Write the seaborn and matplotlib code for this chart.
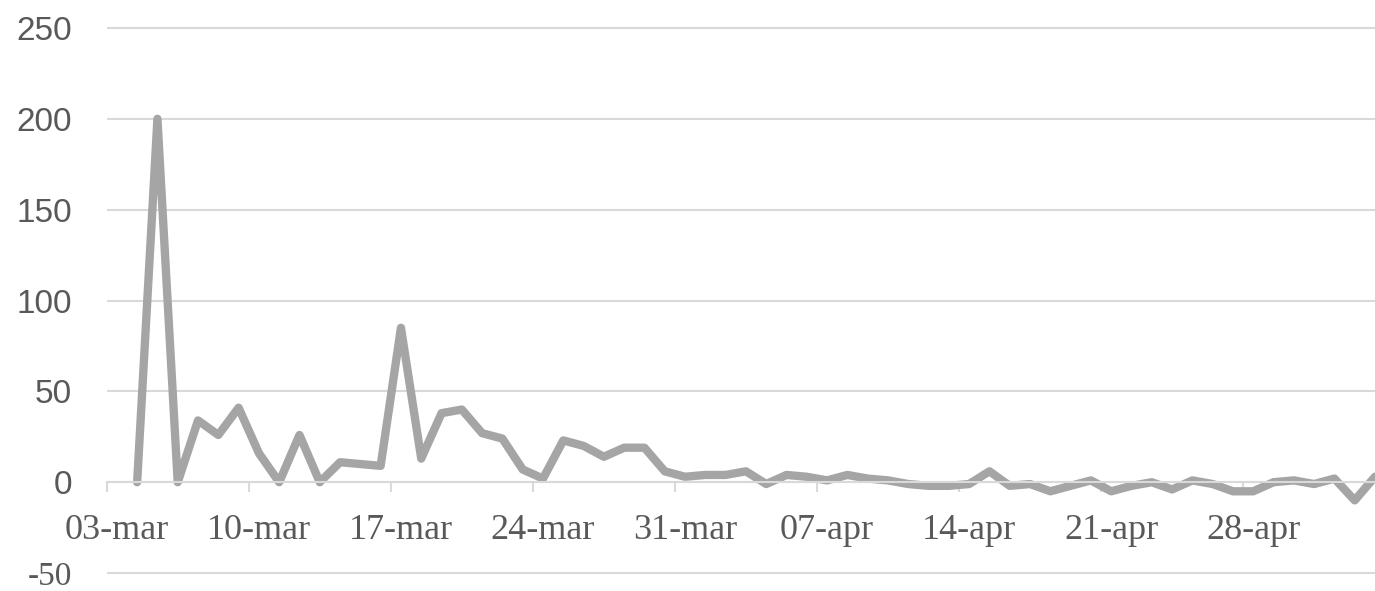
import pandas as pd
import matplotlib.pyplot as plt
import matplotlib.dates as mdates
from matplotlib.ticker import FixedLocator, FuncFormatter
import seaborn as sns

# daily values, 04-mar .. 04-may
dates = pd.date_range("2020-03-04", "2020-05-04", freq="D")
values = [0, 200, 0, 34, 26, 41, 16, 0, 26, 0,
          11, 10, 9, 85, 13, 38, 40, 27, 24, 7,
          2, 23, 20, 14, 19, 19, 6, 3, 4, 4,
          6, -1, 4, 3, 1, 4, 2, 1, -1, -2,
          -2, -1, 6, -2, -1, -5, -2, 1, -5, -2,
          0, -4, 1, -1, -5, -5, 0, 1, -1, 2,
          -10, 3]
tick_dates = pd.date_range("2020-03-03", "2020-04-28", freq="7D")
y_ticks = [-50, 0, 50, 100, 150, 200, 250]

df = pd.DataFrame({"date": dates, "value": values})

sns.set_style("white")
plt.rcParams["font.family"] = ["Liberation Sans", "DejaVu Sans"]

grid_col = "#d9d9d9"
text_col = "#595959"
serif = "Liberation Serif"

fig = plt.figure(figsize=(13.75, 5.91), dpi=100)
ax = fig.add_axes([0.0776, 0.015, 0.9224, 0.953])

sns.lineplot(data=df, x="date", y="value", ax=ax, color="#a5a5a5",
             linewidth=6, solid_joinstyle="round", solid_capstyle="round")

for y in y_ticks:
    ax.axhline(y, color=grid_col, linewidth=1.5, zorder=0)

ax.set_ylim(-55, 255)
tick_nums = mdates.date2num(tick_dates)
ax.set_xlim(tick_nums[0] - 0.5, mdates.date2num(dates[-1]))

ax.set_yticks(y_ticks)
ax.set_yticklabels([str(v) for v in y_ticks])
ax.tick_params(axis="y", length=0, pad=25, labelsize=24, labelcolor=text_col)

ax.xaxis.set_major_locator(FixedLocator(tick_nums))
ax.xaxis.set_major_formatter(FuncFormatter(
    lambda v, p: mdates.num2date(v).strftime("%d-%b").lower()))
ax.xaxis.set_minor_locator(FixedLocator(tick_nums - 0.5))
ax.tick_params(axis="x", which="major", length=0, pad=23, labelsize=26,
               labelcolor=text_col, labelfontfamily=serif)
ax.tick_params(axis="x", which="minor", length=7.5, width=1.5, color=grid_col,
               direction="out", bottom=True)

for side in ["top", "right", "left"]:
    ax.spines[side].set_visible(False)
ax.spines["bottom"].set_position(("data", 0))
ax.spines["bottom"].set_color(grid_col)
ax.spines["bottom"].set_linewidth(1.5)

ax.set_xlabel("")
ax.set_ylabel("")

# the -50 label is set in a serif face in the original
fig.canvas.draw()
ax.get_yticklabels()[0].set_fontfamily(serif)

fig.savefig("out.png", dpi=100)
